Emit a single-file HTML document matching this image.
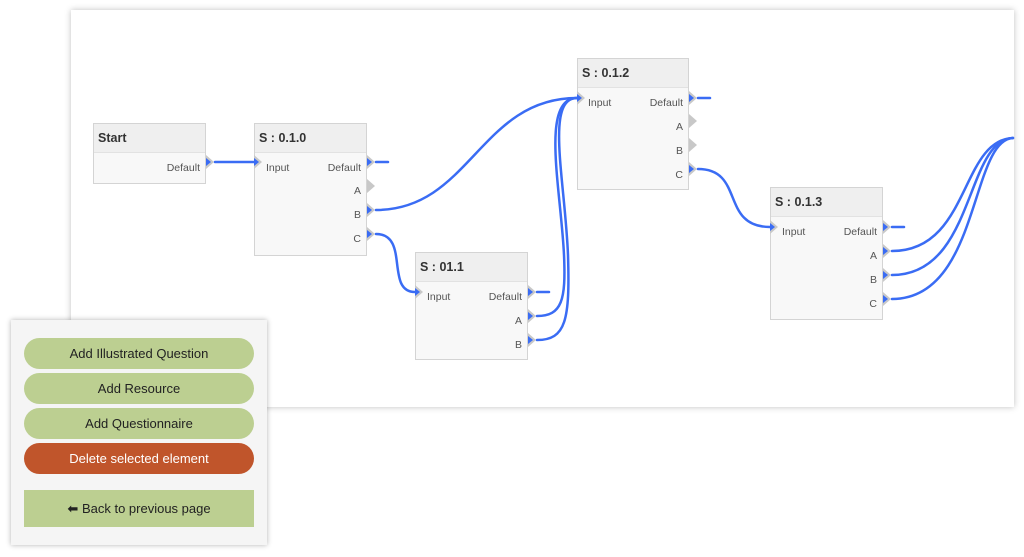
<!DOCTYPE html>
<html><head><style>
*{margin:0;padding:0;box-sizing:border-box}
body{width:1024px;height:557px;background:#fff;position:relative;overflow:hidden;font-family:"Liberation Sans",sans-serif}
.canvas{position:absolute;left:71px;top:10px;width:943px;height:397px;background:#fff;box-shadow:0 0 6px rgba(0,0,0,.25)}
.node{position:absolute;background:#f8f8f8;border:1px solid #d4d4d4}
.hd{height:29px;background:#efefef;border-bottom:1px solid #e2e2e2;font-weight:bold;font-size:12.5px;color:#333;padding:7px 0 0 4px}
.t{position:absolute;font-size:10.5px;color:#555;line-height:12px}
.panel{position:absolute;left:11px;top:320px;width:256px;height:225px;background:#f5f5f5;box-shadow:0 0 5px rgba(0,0,0,.3)}
.btn{position:absolute;left:13px;width:230px;height:31px;border-radius:16px;background:#bccf91;color:#222;font-size:13px;text-align:center;line-height:31px}
svg{position:absolute;left:0;top:0}
</style></head><body>
<div class="canvas"></div>

<div class="node" style="left:93px;top:123px;width:113px;height:61px"><div class="hd">Start</div>
<div class="t" style="right:5px;top:38px">Default</div></div>

<div class="node" style="left:254px;top:123px;width:113px;height:133px"><div class="hd">S : 0.1.0</div>
<div class="t" style="left:11px;top:38px">Input</div>
<div class="t" style="right:5px;top:38px">Default</div>
<div class="t" style="right:5px;top:61px">A</div>
<div class="t" style="right:5px;top:85px">B</div>
<div class="t" style="right:5px;top:109px">C</div></div>

<div class="node" style="left:415px;top:252px;width:113px;height:108px"><div class="hd">S : 01.1</div>
<div class="t" style="left:11px;top:38px">Input</div>
<div class="t" style="right:5px;top:38px">Default</div>
<div class="t" style="right:5px;top:62px">A</div>
<div class="t" style="right:5px;top:86px">B</div></div>

<div class="node" style="left:577px;top:58px;width:112px;height:132px"><div class="hd">S : 0.1.2</div>
<div class="t" style="left:10px;top:38px">Input</div>
<div class="t" style="right:5px;top:38px">Default</div>
<div class="t" style="right:5px;top:62px">A</div>
<div class="t" style="right:5px;top:86px">B</div>
<div class="t" style="right:5px;top:110px">C</div></div>

<div class="node" style="left:770px;top:187px;width:113px;height:133px"><div class="hd">S : 0.1.3</div>
<div class="t" style="left:11px;top:38px">Input</div>
<div class="t" style="right:5px;top:38px">Default</div>
<div class="t" style="right:5px;top:62px">A</div>
<div class="t" style="right:5px;top:86px">B</div>
<div class="t" style="right:5px;top:110px">C</div></div>

<svg width="1024" height="557" viewBox="0 0 1024 557">
<g fill="#c8c8c8">
<path d="M206,155 l8,7 l-8,7z"/>
<path d="M367,155 l8,7 l-8,7z"/><path d="M367,179 l8,7 l-8,7z"/><path d="M367,203 l8,7 l-8,7z"/><path d="M367,227 l8,7 l-8,7z"/>
<path d="M254,155 l8,7 l-8,7z"/>
<path d="M415,285 l8,7 l-8,7z"/>
<path d="M528,285 l8,7 l-8,7z"/><path d="M528,309 l8,7 l-8,7z"/><path d="M528,333 l8,7 l-8,7z"/>
<path d="M577,91 l8,7 l-8,7z"/>
<path d="M689,91 l8,7 l-8,7z"/><path d="M689,114 l8,7 l-8,7z"/><path d="M689,138 l8,7 l-8,7z"/><path d="M689,162 l8,7 l-8,7z"/>
<path d="M770,220 l8,7 l-8,7z"/>
<path d="M883,220 l8,7 l-8,7z"/><path d="M883,244 l8,7 l-8,7z"/><path d="M883,268 l8,7 l-8,7z"/><path d="M883,292 l8,7 l-8,7z"/>
</g>
<g fill="#3a6cf4">
<path d="M206,158 l5,4 l-5,4z"/><path d="M367,158 l5,4 l-5,4z"/><path d="M367,206 l5,4 l-5,4z"/><path d="M367,230 l5,4 l-5,4z"/>
<path d="M254,158 l5,4 l-5,4z"/><path d="M415,288 l5,4 l-5,4z"/>
<path d="M528,288 l5,4 l-5,4z"/><path d="M528,312 l5,4 l-5,4z"/><path d="M528,336 l5,4 l-5,4z"/>
<path d="M577,94 l5,4 l-5,4z"/><path d="M689,94 l5,4 l-5,4z"/><path d="M689,165 l5,4 l-5,4z"/>
<path d="M770,223 l5,4 l-5,4z"/><path d="M883,223 l5,4 l-5,4z"/><path d="M883,247 l5,4 l-5,4z"/><path d="M883,271 l5,4 l-5,4z"/><path d="M883,295 l5,4 l-5,4z"/>
</g>
<g fill="none" stroke="#3a6cf4" stroke-width="2.5" stroke-linecap="round">
<path d="M215,162 L254,162"/>
<path d="M376,162 L388,162"/><path d="M537,292 L549,292"/><path d="M698,98 L710,98"/><path d="M892,227 L904,227"/>
<path d="M376,210 C470,210 480,98 577,98"/>
<path d="M376,234 C410,234 385,292 415,292"/>
<path d="M537,316 C562,316 566,300 564,255 C561,190 540,98 577,98"/>
<path d="M537,340 C566,340 570,320 568,255 C565,180 545,98 577,98"/>
<path d="M698,169 C745,169 720,227 770,227"/>
<path d="M892,251 C970,251 960,140 1013,138"/>
<path d="M892,275 C975,275 965,140 1013,138"/>
<path d="M892,299 C980,299 970,140 1013,138"/>
</g>
</svg>

<div class="panel">
<div class="btn" style="top:18px">Add Illustrated Question</div>
<div class="btn" style="top:53px">Add Resource</div>
<div class="btn" style="top:88px">Add Questionnaire</div>
<div class="btn" style="top:123px;background:#c0552b;color:#fff">Delete selected element</div>
<div class="btn" style="top:170px;height:37px;line-height:37px;border-radius:0"><span style="font-family:'DejaVu Sans',sans-serif;font-weight:bold">⬅</span> Back to previous page</div>
</div>
</body></html>
